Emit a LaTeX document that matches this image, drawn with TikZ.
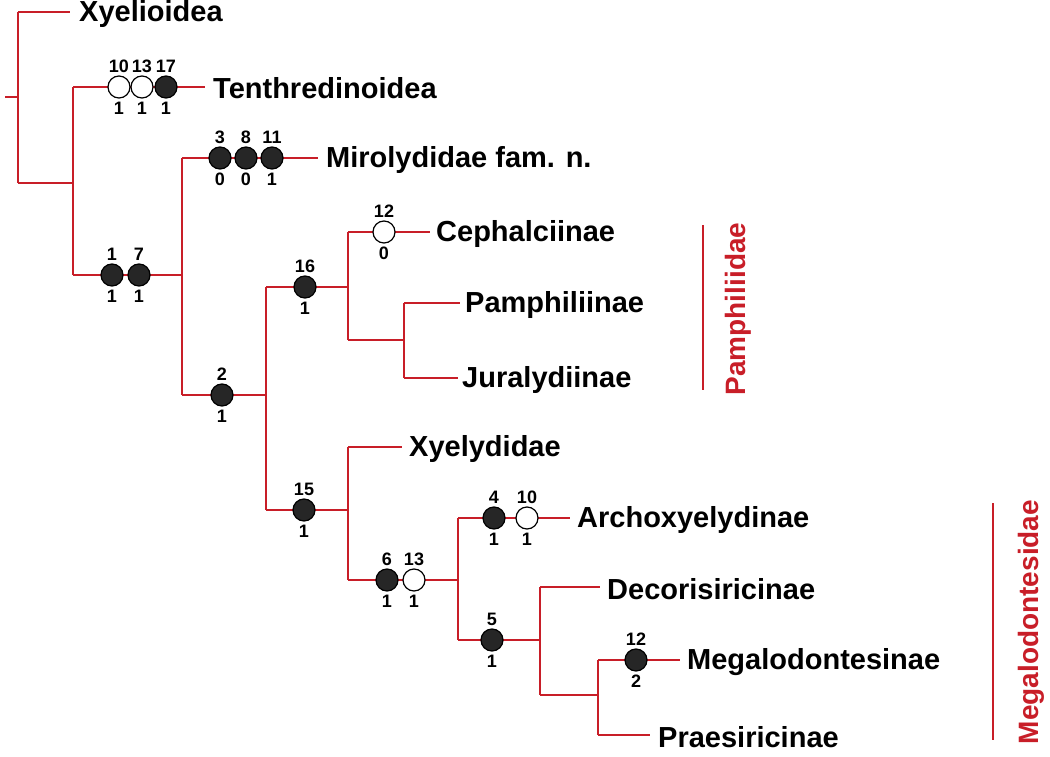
\documentclass[tikz,border=0pt]{standalone}
\usepackage{fontspec}
\setmainfont{Liberation Sans}
\begin{document}
\begin{tikzpicture}[x=1pt,y=-1pt,
  br/.style={draw={rgb,255:red,200;green,30;blue,40},line width=2pt},
  lab/.style={anchor=west,font=\fontsize{29}{31}\selectfont\bfseries,inner sep=0pt},
  num/.style={font=\fontsize{18}{19}\selectfont\bfseries,inner sep=0pt},
  fc/.style={circle,draw=black,line width=1.2pt,fill=black!85,minimum size=22pt,inner sep=0pt},
  oc/.style={circle,draw=black,line width=1.2pt,fill=white,minimum size=22pt,inner sep=0pt},
  fam/.style={font=\fontsize{28}{30}\selectfont\bfseries,text={rgb,255:red,200;green,30;blue,40},rotate=90,inner sep=0pt}]
\useasboundingbox (0,0) rectangle (1050,757);
\newcommand{\chr}[5]{\node[#5] at (#1,#2) {};\node[num] at (#1,#2-21) {#3};\node[num] at (#1,#2+21) {#4};}
% branches
\draw[br] (5,97) -- (18,97);
\draw[br] (18,12) -- (18,183);
\draw[br] (18,12) -- (70,12);
\draw[br] (18,183) -- (73,183);
\draw[br] (73,87) -- (73,275);
\draw[br] (73,87) -- (205,87);
\draw[br] (73,275) -- (182,275);
\draw[br] (182,158) -- (182,395);
\draw[br] (182,158) -- (318,158);
\draw[br] (182,395) -- (266,395);
\draw[br] (266,287) -- (266,510);
\draw[br] (266,287) -- (348,287);
\draw[br] (348,232) -- (348,340);
\draw[br] (348,232) -- (430,232);
\draw[br] (348,340) -- (404,340);
\draw[br] (404,303) -- (404,378);
\draw[br] (404,303) -- (460,303);
\draw[br] (404,378) -- (458,378);
\draw[br] (266,510) -- (348,510);
\draw[br] (348,447) -- (348,580);
\draw[br] (348,447) -- (402,447);
\draw[br] (348,580) -- (458,580);
\draw[br] (458,518) -- (458,640);
\draw[br] (458,518) -- (570,518);
\draw[br] (458,640) -- (540,640);
\draw[br] (540,587) -- (540,695);
\draw[br] (540,587) -- (600,587);
\draw[br] (540,695) -- (598,695);
\draw[br] (598,660) -- (598,735);
\draw[br] (598,660) -- (680,660);
\draw[br] (598,735) -- (650,735);
% labels
\node[lab] (xyo) at (79,14) {Xyelioidea};
\node[lab] (ten) at (213,88) {Tenthredinoidea};
\node[lab] (mir) at (326,160) {Mirolydidae fam. n.};
\node[lab] (cep) at (436,234) {Cephalciinae};
\node[lab] (pam) at (465,305) {Pamphiliinae};
\node[lab] (jur) at (462,380) {Juralydiinae};
\node[lab] (xyd) at (409,449) {Xyelydidae};
\node[lab] (arc) at (577,520) {Archoxyelydinae};
\node[lab] (dec) at (607,589) {Decorisiricinae};
\node[lab] (meg) at (687,662) {Megalodontesinae};
\node[lab] (pra) at (658,737) {Praesiricinae};
% characters
\chr{119}{87}{10}{1}{oc}\chr{142}{87}{13}{1}{oc}\chr{166}{87}{17}{1}{fc}
\chr{112}{275}{1}{1}{fc}\chr{139}{275}{7}{1}{fc}
\chr{220}{158}{3}{0}{fc}\chr{246}{158}{8}{0}{fc}\chr{272}{158}{11}{1}{fc}
\chr{222}{395}{2}{1}{fc}
\chr{305}{287}{16}{1}{fc}
\chr{384}{232}{12}{0}{oc}
\chr{304}{510}{15}{1}{fc}
\chr{387}{580}{6}{1}{fc}\chr{414}{580}{13}{1}{oc}
\chr{494}{518}{4}{1}{fc}\chr{527}{518}{10}{1}{oc}
\chr{492}{640}{5}{1}{fc}
\chr{636}{660}{12}{2}{fc}
% families
\draw[br] (703,225) -- (703,390);
\node[fam] (pmf) at (738,309) {Pamphiliidae};
\draw[br] (993,503) -- (993,740);
\node[fam] (mgf) at (1031,622) {Megalodontesidae};
\end{tikzpicture}
\end{document}
